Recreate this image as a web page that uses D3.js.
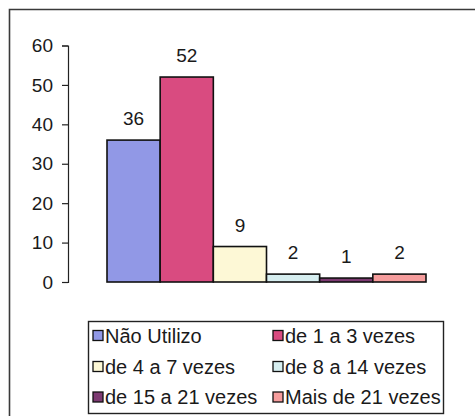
<!DOCTYPE html>
<html>
<head>
<meta charset="utf-8">
<script src="https://cdn.jsdelivr.net/npm/d3@7"></script>
<style>
  html, body { margin: 0; padding: 0; background: #fff; }
  svg { display: block; }
  text { font-family: "Liberation Sans", Arial, sans-serif; fill: #1a1a1a; }
</style>
</head>
<body>
<svg id="chart" width="475" height="416"></svg>
<script>
const categories = ["Não Utilizo", "de 1 a 3 vezes", "de 4 a 7 vezes", "de 8 a 14 vezes", "de 15 a 21 vezes", "Mais de 21 vezes"];
const values = [36, 52, 9, 2, 1, 2];
const colors = ["#9198e6", "#d94b80", "#fdf8d6", "#d6eef0", "#7d3a72", "#f59c9c"];
const yTicks = [0, 10, 20, 30, 40, 50, 60];

const svg = d3.select("#chart");

// outer chart border (cropped on right/bottom)
svg.append("path")
  .attr("d", "M9.5,480 V9.5 H480")
  .attr("fill", "none").attr("stroke", "#3a3a3a").attr("stroke-width", 1.6);

const x = d3.scaleBand().domain(categories).range([107, 426]).paddingInner(0).paddingOuter(0);
const y = d3.scaleLinear().domain([0, 60]).range([282, 45.5]);

// y axis
const yAxis = svg.append("g")
  .attr("transform", "translate(68,0)")
  .call(d3.axisLeft(y).tickValues(yTicks).tickSize(6).tickPadding(9).tickFormat(d3.format("d")));
yAxis.select(".domain").attr("stroke", "#222").attr("stroke-width", 1.2);
yAxis.selectAll(".tick line").attr("stroke", "#222").attr("stroke-width", 1.2);
yAxis.selectAll(".tick text")
  .style("font-family", '"Liberation Sans", Arial, sans-serif')
  .style("font-size", "19px").attr("fill", "#1a1a1a");

// bars
svg.append("g").selectAll("rect")
  .data(categories)
  .join("rect")
  .attr("x", d => x(d))
  .attr("y", (d, i) => y(values[i]))
  .attr("width", x.bandwidth())
  .attr("height", (d, i) => y(0) - y(values[i]))
  .attr("fill", (d, i) => colors[i])
  .attr("stroke", "#111")
  .attr("stroke-width", 1.6);

// value labels
svg.append("g").selectAll("text")
  .data(categories)
  .join("text")
  .attr("x", d => x(d) + x.bandwidth() / 2)
  .attr("y", (d, i) => y(values[i]) - 15)
  .attr("text-anchor", "middle")
  .style("font-size", "19px")
  .text((d, i) => values[i]);

// legend
const legend = svg.append("g");
legend.append("rect")
  .attr("x", 88.5).attr("y", 321.5).attr("width", 355).attr("height", 92)
  .attr("fill", "#fff").attr("stroke", "#222").attr("stroke-width", 1.4);

const colX = [93, 273];
const rowY = [335.5, 366.5, 397];
const items = legend.selectAll("g.item")
  .data(categories)
  .join("g")
  .attr("class", "item")
  .attr("transform", (d, i) => `translate(${colX[i % 2]},${rowY[Math.floor(i / 2)]})`);
items.append("rect")
  .attr("x", 0).attr("y", -5).attr("width", 10).attr("height", 10)
  .attr("fill", (d, i) => colors[i]).attr("stroke", "#111").attr("stroke-width", 1.3);
items.append("text")
  .attr("x", 12).attr("y", 7)
  .style("font-size", "20px")
  .text(d => d);
</script>
</body>
</html>
